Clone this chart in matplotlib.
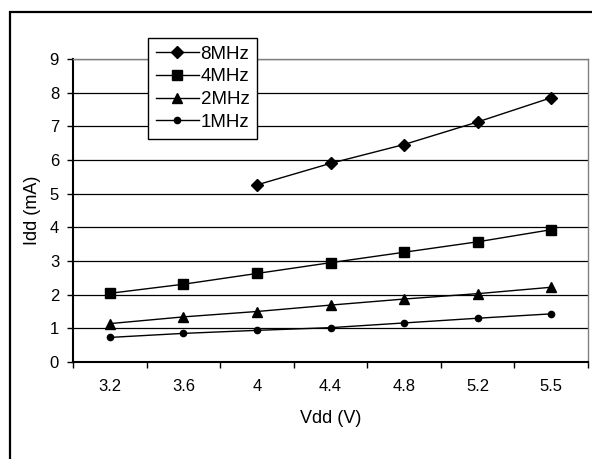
import numpy as np
from matplotlib import pyplot as plt
from matplotlib.patches import Rectangle
from matplotlib.ticker import FixedLocator

plt.rcParams['font.family'] = ['Liberation Sans', 'DejaVu Sans']

# supply voltage categories and current draw per clock
vdd_labels = ['3.2', '3.6', '4', '4.4', '4.8', '5.2', '5.5']
idd_8mhz = [np.nan, np.nan, 5.26, 5.90, 6.46, 7.13, 7.85]
idd_4mhz = [2.04, 2.31, 2.63, 2.95, 3.26, 3.57, 3.93]
idd_2mhz = [1.14, 1.34, 1.50, 1.69, 1.87, 2.03, 2.22]
idd_1mhz = [0.73, 0.85, 0.94, 1.02, 1.16, 1.30, 1.43]

fig = plt.figure(figsize=(5.92, 4.59), dpi=100)
ax = fig.add_axes([73 / 592, 1 - 362 / 459, 515 / 592, 303 / 459])

# outer chart border (only left and top edges visible)
fig.patches.append(Rectangle((10 / 592, -0.2), 1.2, 1.2 - 12 / 459,
                             transform=fig.transFigure, fill=False,
                             edgecolor='black', linewidth=1.6, zorder=0))

x = np.arange(len(vdd_labels))
series = [
	('8MHz', idd_8mhz, 'D', 6.5),
	('4MHz', idd_4mhz, 's', 6.5),
	('2MHz', idd_2mhz, '^', 7),
	('1MHz', idd_1mhz, 'o', 4.5),
]
for name, vals, marker, ms in series:
	ax.plot(x, vals, color='black', linewidth=1.0, marker=marker,
			markersize=ms, markerfacecolor='black', markeredgecolor='black',
			label=name, clip_on=False, zorder=3)

ax.set_xlim(-0.5, len(vdd_labels) - 0.5)
ax.set_ylim(0, 9)
ax.set_yticks(range(10))
ax.yaxis.grid(True, color='black', linewidth=0.9)
ax.set_axisbelow(True)

# category axis: labels at centres, tick marks between categories
ax.set_xticks(x)
ax.set_xticklabels(vdd_labels)
ax.xaxis.set_minor_locator(FixedLocator(np.arange(-0.5, len(vdd_labels), 1.0)))
ax.tick_params(axis='x', which='major', length=0, pad=12, labelsize=12)
ax.tick_params(axis='x', which='minor', length=4, width=1, direction='out')
ax.tick_params(axis='y', length=4, width=1, direction='out', pad=6, labelsize=12)

for side in ['top', 'right']:
	ax.spines[side].set_color('#808080')
	ax.spines[side].set_linewidth(1.0)
for side in ['left', 'bottom']:
	ax.spines[side].set_color('black')
	ax.spines[side].set_linewidth(1.5)

ax.set_xlabel('Vdd (V)', fontsize=13, va='center')
ax.xaxis.set_label_coords(0.5, -0.185)
ax.set_ylabel('Idd (mA)', fontsize=13, va='center')
ax.yaxis.set_label_coords(-0.078, 0.5)

leg = ax.legend(loc='upper left', bbox_to_anchor=(147.7 / 592, 1 - 37.7 / 459),
				bbox_transform=fig.transFigure, fontsize=13.5, frameon=True,
				fancybox=False, framealpha=1.0, edgecolor='black',
				handlelength=2.3, handletextpad=0.1, borderpad=0.42,
				labelspacing=0.3, borderaxespad=0)
leg.get_frame().set_linewidth(1.0)
leg.set_zorder(5)

plt.savefig('out.png', dpi=100)
